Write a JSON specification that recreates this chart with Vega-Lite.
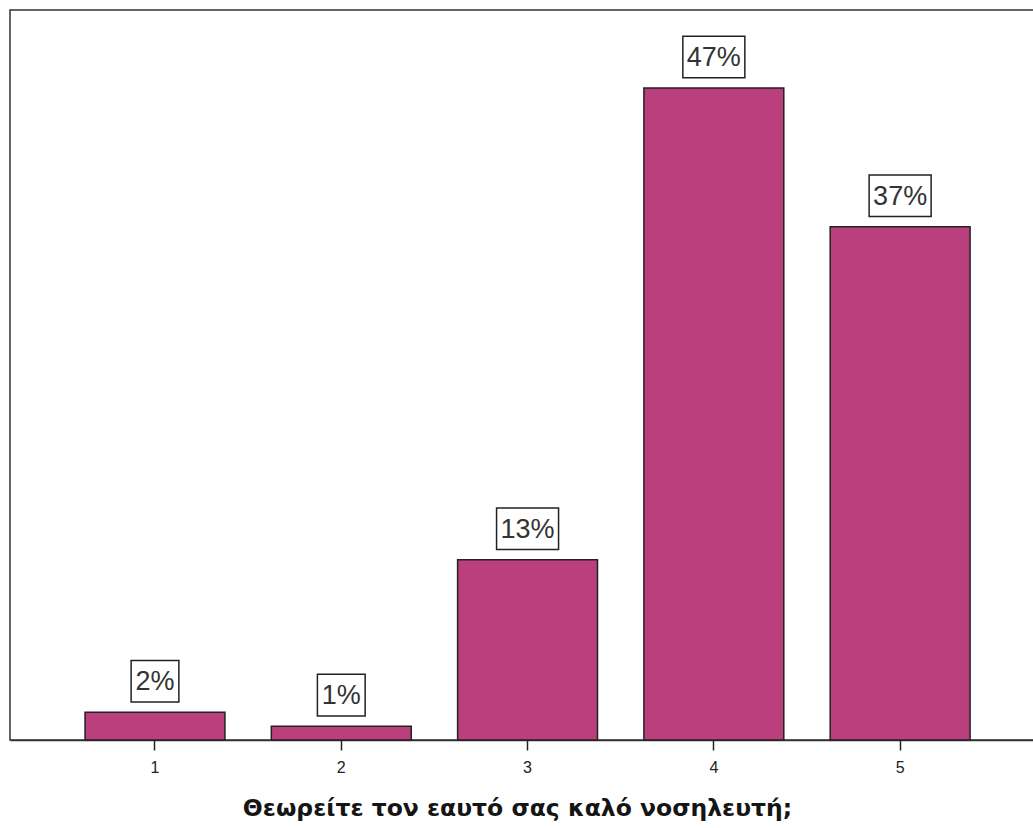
{
  "$schema": "https://vega.github.io/schema/vega-lite/v6.json",
  "autosize": {"type": "none"},
  "padding": {"left": 10, "top": 10, "right": 0, "bottom": 88},
  "width": 1024,
  "height": 730,
  "background": "white",
  "config": {
    "view": {"stroke": "#333333", "strokeWidth": 1.5},
    "font": "Liberation Sans"
  },
  "data": {
    "values": [
      {"answer": "1", "pct": 2, "label": "2%"},
      {"answer": "2", "pct": 1, "label": "1%"},
      {"answer": "3", "pct": 13, "label": "13%"},
      {"answer": "4", "pct": 47, "label": "47%"},
      {"answer": "5", "pct": 37, "label": "37%"}
    ]
  },
  "encoding": {
    "x": {
      "field": "answer",
      "type": "ordinal",
      "sort": ["1", "2", "3", "4", "5"],
      "scale": {"paddingInner": 0.249, "paddingOuter": 0.373, "align": 0.54},
      "axis": {
        "title": "Θεωρείτε τον εαυτό σας καλό νοσηλευτή;",
        "titleFont": "DejaVu Sans",
        "titleFontSize": 23.5,
        "titleFontWeight": 600,
        "titleColor": "#151515",
        "titlePadding": 21,
        "titleX": 507,
        "labelAngle": 0,
        "labelFont": "Liberation Sans",
        "labelFontSize": 16,
        "labelColor": "#222222",
        "labelPadding": 9,
        "tickSize": 10,
        "tickColor": "#222222",
        "tickWidth": 1.5,
        "domainColor": "#333333",
        "domainWidth": 1.5,
        "grid": false
      }
    },
    "y": {
      "field": "pct",
      "type": "quantitative",
      "scale": {"domain": [0, 52.62], "nice": false, "zero": true},
      "axis": null
    }
  },
  "layer": [
    {
      "mark": {"type": "bar", "color": "#BA3F7C", "stroke": "#222222", "strokeWidth": 1.5}
    },
    {
      "mark": {"type": "point", "filled": true, "fill": "white", "stroke": "#222222", "strokeWidth": 1.5, "opacity": 1, "size": 3844, "yOffset": -31},
      "encoding": {
        "shape": {
          "field": "label",
          "type": "nominal",
          "scale": {
            "domain": ["2%", "1%", "13%", "47%", "37%"],
            "range": [
              "M -0.77 -0.67 H 0.77 V 0.67 H -0.77 Z",
              "M -0.77 -0.67 H 0.77 V 0.67 H -0.77 Z",
              "M -1 -0.67 H 1 V 0.67 H -1 Z",
              "M -1 -0.67 H 1 V 0.67 H -1 Z",
              "M -1 -0.67 H 1 V 0.67 H -1 Z"
            ]
          },
          "legend": null
        }
      }
    },
    {
      "mark": {"type": "text", "font": "Liberation Sans", "fontSize": 27, "color": "#333333", "baseline": "middle", "yOffset": -30},
      "encoding": {"text": {"field": "label"}}
    }
  ]
}
